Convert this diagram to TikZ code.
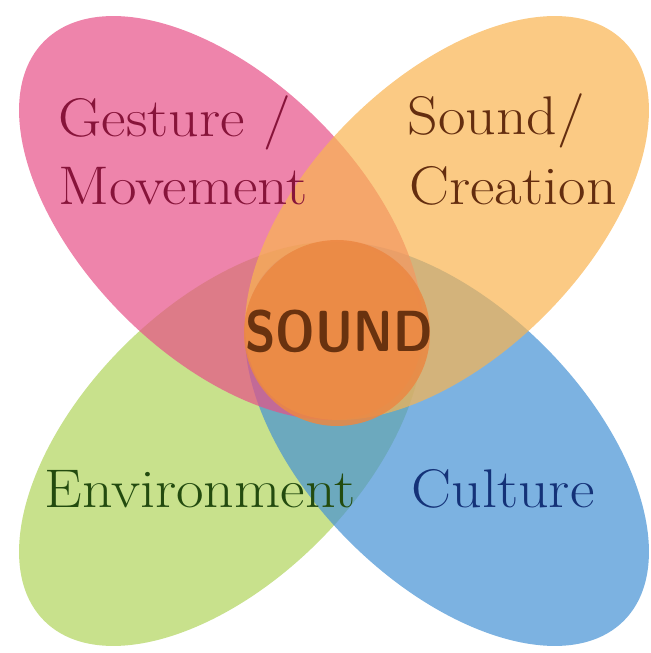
\documentclass[tikz,border=0pt]{standalone}
\usepackage{tikz}
\usetikzlibrary{positioning}
\definecolor{petalpink}{RGB}{231,80,135}
\definecolor{petalorange}{RGB}{249,180,80}
\definecolor{petalgreen}{RGB}{176,212,91}
\definecolor{petalblue}{RGB}{69,145,212}
\definecolor{corefill}{RGB}{236,136,66}
\definecolor{textpink}{RGB}{135,20,58}
\definecolor{textorange}{RGB}{100,45,15}
\definecolor{textgreen}{RGB}{35,75,15}
\definecolor{textblue}{RGB}{20,50,120}
\definecolor{textcore}{RGB}{105,50,15}

\begin{document}
\begin{tikzpicture}[x=0.02cm, y=0.02cm,
    petal/.style={fill opacity=0.7},
    petallabel/.style={font=\fontsize{31}{36}\selectfont, anchor=base west, inner sep=0pt, xscale=1.1}]
    \useasboundingbox (0,0) rectangle (651,653);
    % Petals:
    \fill[petal, fill=petalgreen, rotate around={45:(221,209)}] (221,209) ellipse (250 and 138);
    \fill[petal, fill=petalblue, rotate around={-45:(447,209)}] (447,209) ellipse (250 and 138);
    \fill[petal, fill=petalpink, rotate around={-45:(221,435)}] (221,435) ellipse (250 and 138);
    \fill[petal, fill=petalorange, rotate around={45:(447,435)}] (447,435) ellipse (250 and 138);
    % Core:
    \fill[fill=corefill, fill opacity=0.85] (337,320) circle (93);
    \node[font=\sffamily\bfseries\fontsize{33}{36}\selectfont, text=textcore, xscale=0.86, inner sep=0pt] (core) at (339,322) {SOUND};
    % Labels:
    \node[petallabel, text=textpink] (gesture) at (58,516) {Gesture /};
    \node[petallabel, text=textpink] (movement) at (58,448) {Movement};
    \node[petallabel, text=textorange] (sound) at (407,518) {Sound/};
    \node[petallabel, text=textorange] (creation) at (409,448) {Creation};
    \node[petallabel, text=textgreen] (environment) at (44,145) {Environment};
    \node[petallabel, text=textblue] (culture) at (411,145) {Culture};
\end{tikzpicture}
\end{document}
